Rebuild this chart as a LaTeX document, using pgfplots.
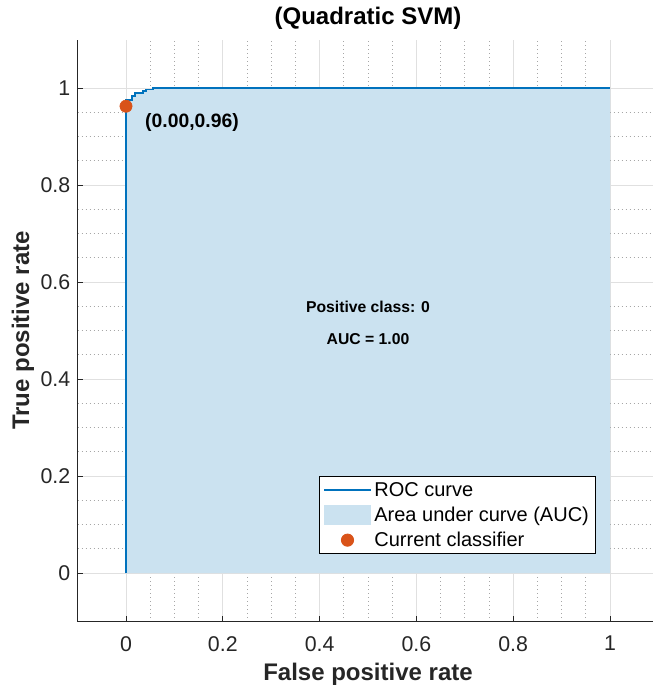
\documentclass[border=0pt]{standalone}
\usepackage{fontspec}
\setmainfont{Liberation Sans}
\usepackage{pgfplots}
\pgfplotsset{compat=1.18}
\usetikzlibrary{calc}
\definecolor{aucfill}{RGB}{203,226,240}
\definecolor{rocline}{RGB}{0,114,189}
\definecolor{dotc}{RGB}{217,83,25}
\definecolor{axc}{RGB}{38,38,38}
\pgfplotsset{
  mylinelegend/.style={legend image code/.code={\draw[##1] (0pt,0pt) -- (35pt,0pt);}},
  mydotlegend/.style={legend image code/.code={\draw[##1] plot coordinates {(17.5pt,0pt)};}},
  myarealegend/.style={legend image code/.code={\fill[aucfill] (0pt,-7pt) rectangle (35pt,7pt);}},
}
\begin{document}
\begin{tikzpicture}
\begin{axis}[
  name=ax,
  scale only axis,
  width=435.6pt, height=436.5pt,
  xmin=-0.1, xmax=1.1, ymin=-0.1, ymax=1.1,
  xtick={0,0.2,0.4,0.6,0.8,1},
  ytick={0,0.2,0.4,0.6,0.8,1},
  xticklabels={0,0.2,0.4,0.6,0.8,1},
  yticklabels={0,0.2,0.4,0.6,0.8,1},
  minor tick num=3,
  minor tick length=0pt,
  major tick length=4pt,
  tick align=inside,
  xtick pos=bottom, ytick pos=left,
  axis x line*=bottom, axis y line*=left,
  axis line style={-, color=axc, line width=0.6pt},
  tick style={color=axc, line width=0.6pt},
  grid=both,
  major grid style={solid, color=black!12, line width=0.6pt},
  minor grid style={dash pattern=on 0.6pt off 2.4pt, color=black!35, line width=0.5pt},
  ticklabel style={font=\fontsize{16}{19}\selectfont, color=axc},
  /pgf/number format/assume math mode=true,
  xticklabel style={yshift=-7.5pt},
  yticklabel style={xshift=-2pt},
  title={\textbf{(Quadratic SVM)}},
  title style={font=\fontsize{18}{21}\selectfont, yshift=-2pt},
  xlabel={\textbf{False positive rate}},
  ylabel={\textbf{True positive rate}},
  label style={font=\fontsize{18}{21}\selectfont, color=black!85},
  xlabel style={yshift=-2pt},
  ylabel style={yshift=-2pt},
  legend style={at={(axis cs:0.971,0.039)}, anchor=south east,
    draw=black, line width=0.6pt, fill=white,
    font=\fontsize{15}{18}\selectfont, cells={anchor=west},
    row sep=2.5pt, inner xsep=3pt, inner ysep=2pt},
]
\addplot[fill=aucfill, draw=none, forget plot] coordinates {
(0,0) (0,0.975) (0.012,0.975) (0.012,0.984) (0.019,0.984) (0.019,0.990)
(0.035,0.990) (0.035,0.994) (0.041,0.994) (0.041,0.997) (0.056,0.997)
(0.056,1) (1,1) (1,0)} -- cycle;
\addplot[rocline, line width=1.3pt, mylinelegend] coordinates {
(0,0) (0,0.975) (0.012,0.975) (0.012,0.984) (0.019,0.984) (0.019,0.990)
(0.035,0.990) (0.035,0.994) (0.041,0.994) (0.041,0.997) (0.056,0.997)
(0.056,1) (1,1)};
\addlegendentry{ROC curve}
\addlegendimage{myarealegend}
\addlegendentry{Area under curve (AUC)}
\addplot[only marks, mark=*, mark size=4.6pt, color=dotc, mydotlegend] coordinates {(0,0.9625)};
\addlegendentry{Current classifier}
\node[anchor=west, font=\fontsize{14.5}{17}\selectfont\bfseries] at (axis cs:0.03,0.928) {(0.00,0.96)};
\node[font=\fontsize{11.8}{14}\selectfont\bfseries] at (axis cs:0.5,0.548) {Positive class: 0};
\node[font=\fontsize{11.8}{14}\selectfont\bfseries] at (axis cs:0.5,0.482) {AUC = 1.00};
\end{axis}
\pgfresetboundingbox
\path[use as bounding box] ($(ax.south west)+(-58.2pt,-50.6pt)$) rectangle ++(489.75pt,516.75pt);
\end{tikzpicture}
\end{document}
